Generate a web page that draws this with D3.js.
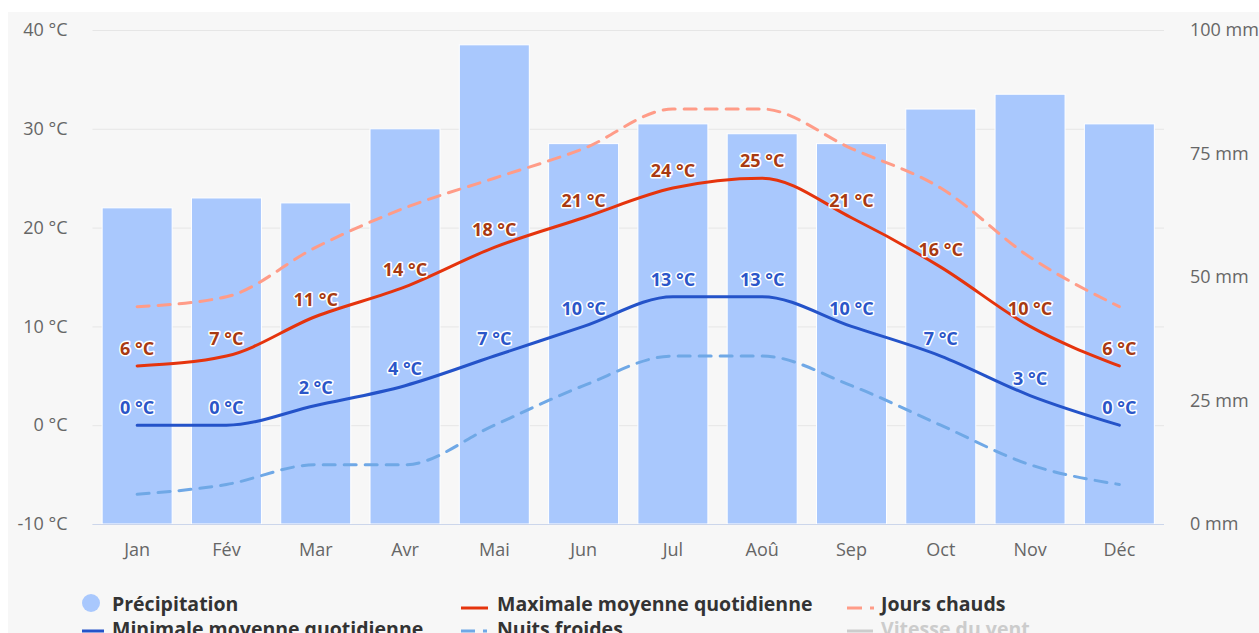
<!DOCTYPE html>
<html>
<head>
<meta charset="utf-8">
<script src="https://cdn.jsdelivr.net/npm/d3@7"></script>
<style>
  html, body { margin: 0; padding: 0; background: #ffffff; }
  svg { display: block; }
  text { font-family: "Open Sans", "Noto Sans", sans-serif; }
</style>
</head>
<body>
<svg id="chart" width="1259" height="633"></svg>
<script>
// ---- data ----
const months = ["Jan", "Fév", "Mar", "Avr", "Mai", "Jun", "Jul", "Aoû", "Sep", "Oct", "Nov", "Déc"];
const precipitation = [64, 66, 65, 80, 97, 77, 81, 79, 77, 84, 87, 81];      // mm
const maxTemp = [6, 7, 11, 14, 18, 21, 24, 25, 21, 16, 10, 6];              // °C
const minTemp = [0, 0, 2, 4, 7, 10, 13, 13, 10, 7, 3, 0];                   // °C
const hotDays = [12, 13, 18, 22, 25, 28, 32, 32, 28, 24, 17, 12];           // °C
const coldNights = [-7, -6, -4, -4, 0, 4, 7, 7, 4, 0, -4, -6];              // °C
const tempTicks = [-10, 0, 10, 20, 30, 40];
const precipTicks = [0, 25, 50, 75, 100];
const legendItems = [
  ["Précipitation", "Maximale moyenne quotidienne", "Jours chauds"],
  ["Minimale moyenne quotidienne", "Nuits froides", "Vitesse du vent"]
];

// ---- layout ----
const W = 1259, H = 633;
const plotL = 92.5, plotR = 1164, plotT = 30, plotB = 524;
const svg = d3.select("#chart");

svg.append("rect").attr("x", 8).attr("y", 12).attr("width", W - 8).attr("height", H - 12).attr("fill", "#f7f7f7");

const x = d3.scaleBand().domain(months).range([plotL, plotR]).paddingInner(0.216).paddingOuter(0.108);
const yT = d3.scaleLinear().domain([-10, 40]).range([plotB, plotT]);
const yP = d3.scaleLinear().domain([0, 100]).range([plotB, plotT]);
const cx = m => x(m) + x.bandwidth() / 2;

// left axis with gridlines
const gl = svg.append("g").attr("transform", `translate(${plotL},0)`)
  .call(d3.axisLeft(yT).tickValues(tempTicks).tickSize(-(plotR - plotL)).tickPadding(25).tickFormat(d => d + " °C"));
gl.select(".domain").remove();
gl.selectAll(".tick line").attr("stroke", "#e6e6e6").attr("stroke-width", 1);
gl.selectAll(".tick text").attr("fill", "#666666").style("font-size", "18px").style("font-family", "'Open Sans', sans-serif");

// right axis
const gr = svg.append("g").attr("transform", `translate(${plotR},0)`)
  .call(d3.axisRight(yP).tickValues(precipTicks).tickSize(0).tickPadding(26).tickFormat(d => d + " mm"));
gr.select(".domain").remove();
gr.selectAll(".tick text").attr("fill", "#666666").style("font-size", "18px").style("font-family", "'Open Sans', sans-serif");

// bars
svg.append("g").selectAll("rect").data(months).join("rect")
  .attr("x", m => x(m))
  .attr("width", x.bandwidth())
  .attr("y", (m, i) => yP(precipitation[i]))
  .attr("height", (m, i) => plotB - yP(precipitation[i]))
  .attr("fill", "#a9c8fd")
  .attr("stroke", "#ffffff")
  .attr("stroke-width", 1);

// bottom axis
const gb = svg.append("g").attr("transform", `translate(0,${plotB})`)
  .call(d3.axisBottom(x).tickSize(0).tickPadding(19));
gb.select(".domain").attr("stroke", "#ccd6eb").attr("d", `M${plotL},0.5H${plotR}`);
gb.selectAll(".tick text").attr("fill", "#666666").style("font-size", "18px").style("font-family", "'Open Sans', sans-serif");

// lines
const lineGen = vals => d3.line().x((d, i) => cx(months[i])).y(d => yT(d)).curve(d3.curveMonotoneX)(vals);
const series = [
  { vals: coldNights, color: "#6fa8e6", dash: "12,9", w: 3 },
  { vals: hotDays, color: "#ff9c88", dash: "12,9", w: 3 },
  { vals: minTemp, color: "#2453c9", dash: null, w: 3 },
  { vals: maxTemp, color: "#e5340d", dash: null, w: 3 }
];
series.forEach(s => {
  svg.append("path").attr("d", lineGen(s.vals))
    .attr("fill", "none").attr("stroke", s.color).attr("stroke-width", s.w)
    .attr("stroke-dasharray", s.dash).attr("stroke-linecap", "round");
});

// data labels
function labels(vals, color) {
  svg.append("g").selectAll("text").data(vals).join("text")
    .attr("x", (d, i) => cx(months[i]))
    .attr("y", d => yT(d) - 11)
    .attr("text-anchor", "middle")
    .attr("fill", color)
    .attr("stroke", "#ffffff").attr("stroke-width", 3).attr("stroke-linejoin", "round")
    .attr("paint-order", "stroke")
    .style("font-size", "18px").style("font-weight", "bold")
    .text(d => d + " °C");
}
labels(maxTemp, "#a83a12");
labels(minTemp, "#2b56c8");

// legend
const colX = [82, 461, 847];
const textX = [112, 497, 881];
const rowY = [611, 636];
const leg = svg.append("g");
function legendText(col, row, label, color) {
  leg.append("text").attr("x", textX[col]).attr("y", rowY[row]).attr("fill", color)
    .style("font-size", "19.5px").style("font-weight", "bold").text(label);
}
// Précipitation
leg.append("circle").attr("cx", colX[0] + 9).attr("cy", rowY[0] - 8).attr("r", 9).attr("fill", "#a9c8fd");
legendText(0, 0, legendItems[0][0], "#333333");
// Maximale
leg.append("line").attr("x1", colX[1]).attr("x2", colX[1] + 27).attr("y1", rowY[0] - 3).attr("y2", rowY[0] - 3)
  .attr("stroke", "#e5340d").attr("stroke-width", 3);
legendText(1, 0, legendItems[0][1], "#333333");
// Jours chauds
leg.append("line").attr("x1", colX[2]).attr("x2", colX[2] + 27).attr("y1", rowY[0] - 3).attr("y2", rowY[0] - 3)
  .attr("stroke", "#ff9c88").attr("stroke-width", 3).attr("stroke-dasharray", "15,8");
legendText(2, 0, legendItems[0][2], "#333333");
// Minimale
leg.append("line").attr("x1", colX[0]).attr("x2", colX[0] + 22).attr("y1", rowY[1] - 5).attr("y2", rowY[1] - 5)
  .attr("stroke", "#2453c9").attr("stroke-width", 3);
legendText(0, 1, legendItems[1][0], "#333333");
// Nuits froides
leg.append("line").attr("x1", colX[1]).attr("x2", colX[1] + 26).attr("y1", rowY[1] - 5).attr("y2", rowY[1] - 5)
  .attr("stroke", "#6fa8e6").attr("stroke-width", 3).attr("stroke-dasharray", "14,8");
legendText(1, 1, legendItems[1][1], "#333333");
// Vitesse du vent (hidden series)
leg.append("line").attr("x1", colX[2]).attr("x2", colX[2] + 26).attr("y1", rowY[1] - 5).attr("y2", rowY[1] - 5)
  .attr("stroke", "#cccccc").attr("stroke-width", 3);
legendText(2, 1, legendItems[1][2], "#cccccc");
</script>
</body>
</html>
